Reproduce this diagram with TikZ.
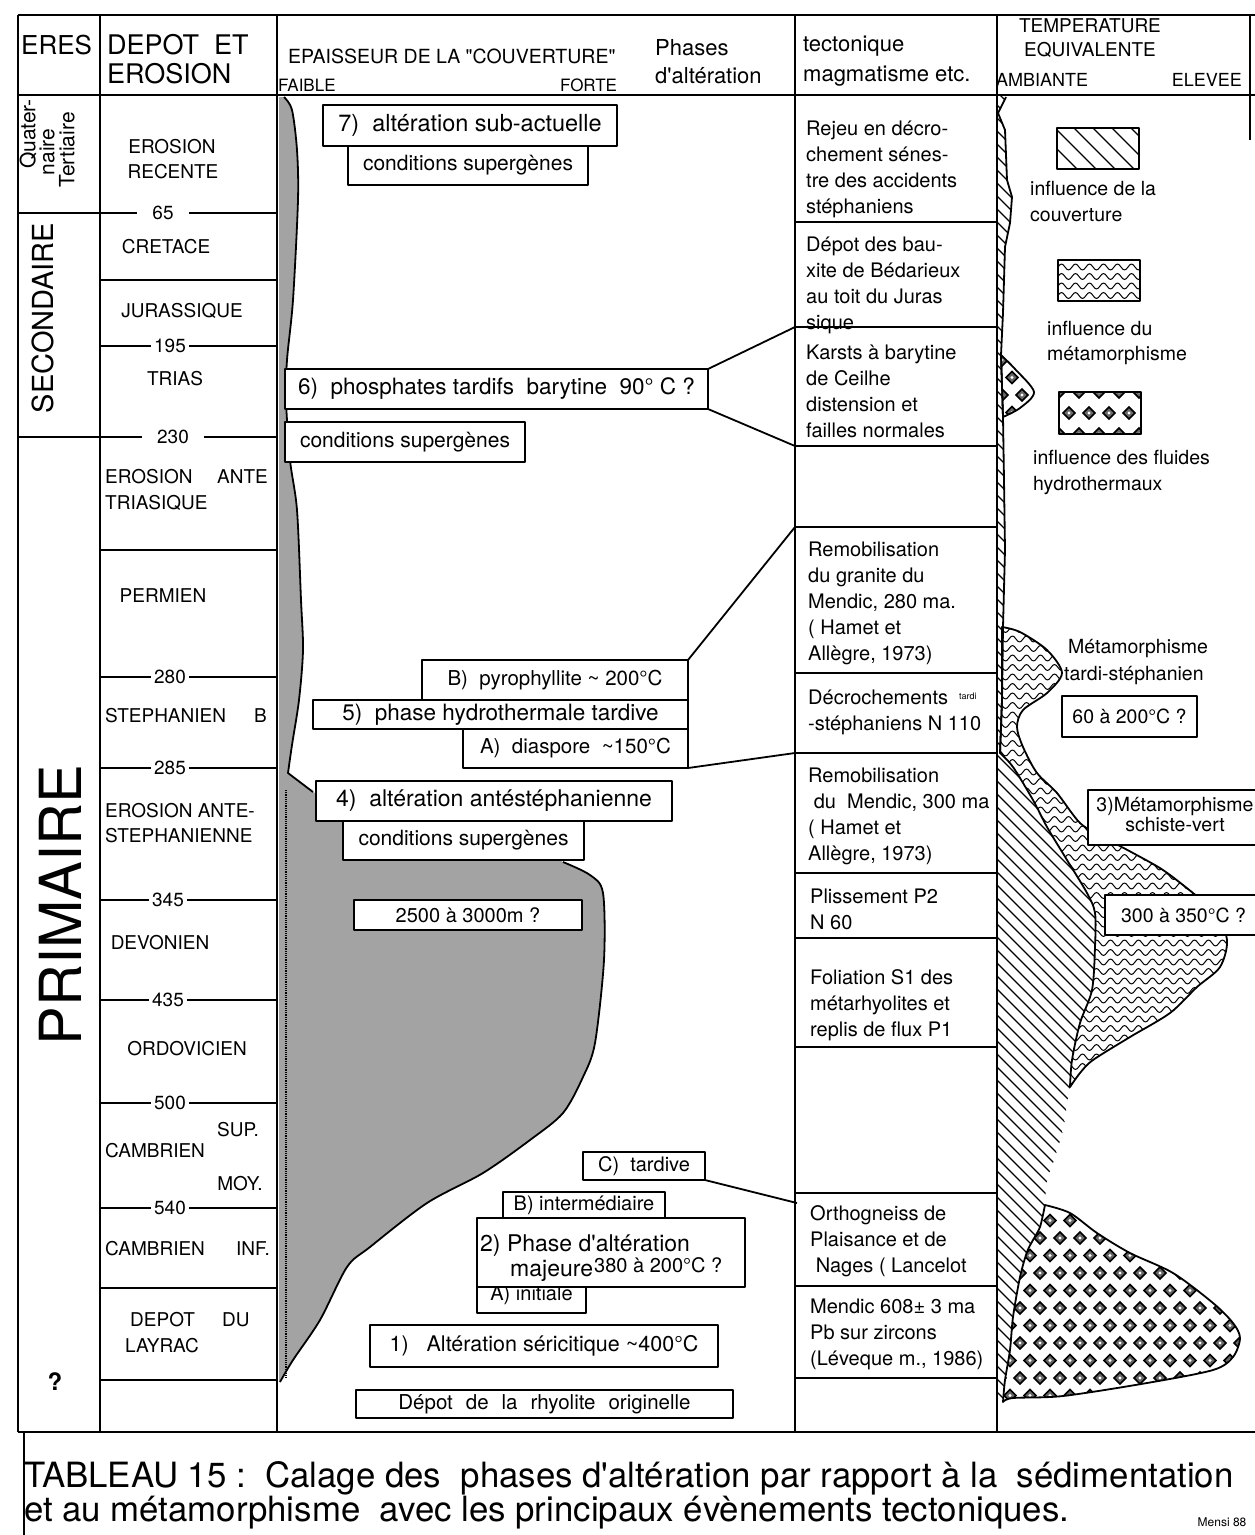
\documentclass[tikz,border=0pt]{standalone}
\usepackage{fontspec}
\setmainfont{TeX Gyre Heros}
\newcommand\myfs[2]{\fontsize{#1}{#2}\selectfont}
\newcommand\mytab[1]{\begin{tabular}[t]{@{}l@{}}#1\end{tabular}}
\newcommand\mytabc[1]{\begin{tabular}[t]{@{}c@{}}#1\end{tabular}}
\newcommand\ap{\textquotesingle}
\newcommand\dq{\textquotedbl}
\newcommand\mydia[2]{%
  \fill (#1,#2) +(-7.2,0) -- +(0,-7.2) -- +(7.2,0) -- +(0,7.2) -- cycle;
  \fill[black!60] (#1,#2) +(-4.6,0) -- +(0,-4.6) -- +(4.6,0) -- +(0,4.6) -- cycle;
  \fill[white] (#1,#2) +(-1.6,0) -- +(0,-1.6) -- +(1.6,0) -- +(0,1.6) -- cycle;}
\begin{document}
\begin{tikzpicture}[x=1pt,y=-1pt,line join=round,
  frm/.style={line width=2.2pt},
  cel/.style={line width=1.8pt},
  box/.style={draw,line width=1.8pt,fill=white,inner sep=0pt,outer sep=0pt,align=center},
  tt/.style={anchor=base west,inner sep=0pt,font=\myfs{20}{26}},
  dp/.style={inner sep=0pt,font=\myfs{19}{24}},
  num/.style={fill=white,inner xsep=3pt,inner ysep=1pt,font=\myfs{19}{24}},
  hw/.style={anchor=west,inner sep=0pt},
  bnd/.style={line width=1.8pt},
  stip/.style={fill=black!36},
  hat/.style={line width=1.2pt},
  wav/.style={line width=1pt},
  leg/.style={line width=2.6pt}]
\useasboundingbox (0,0) rectangle (1255,1535);
\fill[white] (0,0) rectangle (1255,1535);

% ---------- thickness of cover (stippled) ----------
\fill[stip] (279,97) -- plot[smooth] coordinates {(284,97)(292,110)(297,150)(298,200)(293,300)(287,360)(286,400)(290,460)(297,510)(301,600)(303,650)(299,700)(292,745)(288,773)} -- (313,792) -- (330,800) -- (555,858) -- plot[smooth] coordinates {(563,862)(590,875)(603,893)(604,960)(595,1043)(583,1077)(563,1113)(530,1140)(483,1173)(427,1203)(370,1247)(347,1267)(320,1320)(293,1360)(280,1382)} -- (279,1382) -- cycle;
\draw[bnd] plot[smooth] coordinates {(284,97)(292,110)(297,150)(298,200)(293,300)(287,360)(286,400)(290,460)(297,510)(301,600)(303,650)(299,700)(292,745)(288,773)} -- (313,792);
\draw[bnd] plot[smooth] coordinates {(563,862)(590,875)(603,893)(604,960)(595,1043)(583,1077)(563,1113)(530,1140)(483,1173)(427,1203)(370,1247)(347,1267)(320,1320)(293,1360)(280,1382)};
\draw[densely dotted,line width=1.2pt] (286,790) -- (286,1378);

% ---------- temperature column regions ----------
\def\stripA{(997,95) -- (1006,97) -- (998,113) -- (1005,130) -- (1007,180) -- (1012,197) -- (1010,223) -- (1005,247) -- (1003,313) -- (1001,355) -- (1003,417) -- (1004,480) -- (1005,550) -- (1003,627) -- (1002,700) -- (1000,753) -- (997,760) -- cycle}
\def\hydS{plot[smooth] coordinates {(1001,355)(1015,369)(1034,392)(1020,408)(1003,417)} -- cycle}
\def\wavR{plot[smooth] coordinates {(1002,627)(1020,632)(1047,650)(1062,673)(1047,693)(1023,710)(1017,727)(1023,747)(1037,773)(1057,793)(1080,823)(1103,837)(1133,853)(1163,870)(1193,893)(1215,912)(1227,940)(1220,967)(1197,987)(1170,1013)(1130,1037)(1093,1060)(1080,1073)(1070,1087)} -- plot[smooth] coordinates {(1070,1087)(1072,1060)(1080,1023)(1092,990)(1095,947)(1095,913)(1087,893)(1067,860)(1047,827)(1033,800)(1013,767)(1000,753)} -- (1002,700) -- cycle}
\def\hatB{(997,753) -- plot[smooth] coordinates {(1000,753)(1013,767)(1033,800)(1047,827)(1067,860)(1087,893)(1095,913)(1095,947)(1092,990)(1080,1023)(1072,1060)(1070,1087)(1068,1097)(1063,1130)(1053,1163)(1047,1180)(1045,1205)} -- plot[smooth] coordinates {(1045,1205)(1040,1227)(1033,1240)(1027,1252)(1020,1277)(1013,1317)(1010,1350)(1005,1380)(1003,1400)} -- (997,1400) -- cycle}
\def\hydB{plot[smooth] coordinates {(1045,1205)(1070,1213)(1097,1233)(1130,1253)(1173,1273)(1213,1303)(1233,1323)(1240,1338)(1233,1357)(1213,1370)(1147,1383)(1063,1396)(1013,1398)(1003,1402)} -- plot[smooth] coordinates {(1003,1402)(1005,1380)(1010,1350)(1013,1317)(1020,1277)(1027,1252)(1033,1240)(1040,1227)(1045,1205)} -- cycle}

% hatching (influence de la couverture)
\begin{scope}
  \clip \stripA \hatB;
  \foreach \c in {-460,-447,...,1170} \draw[hat] (990,{990-\c}) -- (1270,{1270-\c});
\end{scope}
% waves (metamorphisme)
\begin{scope}
  \clip \wavR;
  \foreach \r in {0,...,50} \draw[wav] (995,{620+9.5*\r}) \foreach \k in {1,...,20} { sin ++(3.5,-3) cos ++(3.5,3) sin ++(3.5,3) cos ++(3.5,-3) };
\end{scope}
% diamonds (fluides hydrothermaux)
\begin{scope}
  \clip \hydB;
  \foreach \j in {0,...,12} \foreach \i in {0,...,13} {
    \pgfmathsetmacro\cx{1000+20*\i+10*mod(\j,2)}
    \pgfmathsetmacro\cy{1203+17.5*\j}
    \mydia{\cx}{\cy}}
\end{scope}
\begin{scope}
  \clip \hydS;
  \foreach \j in {0,...,4} \foreach \i in {0,...,2} {
    \pgfmathsetmacro\cx{1002+20*\i+10*mod(\j,2)}
    \pgfmathsetmacro\cy{360+17.5*\j}
    \mydia{\cx}{\cy}}
\end{scope}
\draw[bnd] (1006,97) -- (998,113) -- (1005,130) -- (1007,180) -- (1012,197) -- (1010,223) -- (1005,247) -- (1003,313) -- (1001,355) -- (1003,417) -- (1004,480) -- (1005,550) -- (1003,627) -- (1002,700) -- (1000,753);
\draw[bnd] \hydS;
\draw[bnd] \wavR;
\draw[bnd] \hydB;

% legend boxes
\begin{scope}
  \clip (1057,128) rectangle (1139,169);
  \foreach \c in {870,889,...,1030} \draw[hat] (1050,{1050-\c}) -- (1150,{1150-\c});
\end{scope}
\draw[leg] (1057,128) rectangle (1139,169);
\begin{scope}
  \clip (1058,260) rectangle (1140,301);
  \foreach \r in {0,...,4} \draw[wav] (1058,{267+9.5*\r}) \foreach \k in {1,...,6} { sin ++(3.5,-3) cos ++(3.5,3) sin ++(3.5,3) cos ++(3.5,-3) };
\end{scope}
\draw[leg] (1058,260) rectangle (1140,301);
\begin{scope}
  \clip (1059,392) rectangle (1141,434);
  \foreach \j in {0,...,2} \foreach \i in {0,...,4} {
    \pgfmathsetmacro\cx{1059+20*\i+10*mod(\j,2)}
    \pgfmathsetmacro\cy{392+21*\j}
    \mydia{\cx}{\cy}}
\end{scope}
\draw[leg] (1059,392) rectangle (1141,434);

% ---------- table frame ----------
\draw[frm] (18,15) -- (1255,15);
\draw[frm] (18,15) -- (18,1432);
\draw[frm] (18,1432) -- (1255,1432);
\draw[frm] (1250,15) -- (1250,140);
\draw[frm] (18,95) -- (1255,95);
\foreach \x in {100,277,795,997} \draw[frm] (\x,15) -- (\x,1432);
\draw[frm] (24,1432) -- (24,1535);
\draw[cel] (18,213) -- (100,213);
\draw[cel] (18,437) -- (100,437);
\foreach \y in {213,280,346,437,550,677,768,900,1000,1103,1208,1288,1380} \draw[cel] (100,\y) -- (277,\y);
\foreach \y in {222,327,446,527,673,753,873,938,1047,1193,1286,1378} \draw[cel] (795,\y) -- (997,\y);

% connector ends on the tectonics column
\coordinate (kTL) at (795,327);
\coordinate (kBL) at (795,446);
\coordinate (rTL) at (795,527);
\coordinate (dBL) at (795,753);
\coordinate (oTL) at (797,1203);

% ---------- boxes ----------
\node[box,minimum width=294pt,minimum height=41pt,font=\myfs{23.5}{28}] (p7) at (470,125.5) {7)\ \ altération sub-actuelle};
\node[box,minimum width=240pt,minimum height=39pt,font=\myfs{21}{26}] (c7) at (468,165.5) {conditions supergènes};
\node[box,minimum width=423pt,minimum height=40pt,font=\myfs{22.5}{27}] (p6) at (496.5,389) {6)\ \ phosphates tardifs\ \ barytine\ \ 90° C ?};
\node[box,minimum width=240pt,minimum height=40pt,font=\myfs{21}{26}] (c6) at (405,442) {conditions supergènes};
\node[box,minimum width=266pt,minimum height=40pt,font=\myfs{20.5}{25}] (pB5) at (555,680) {B)\ \ pyrophyllite \textasciitilde\ 200°C};
\node[box,minimum width=375pt,minimum height=29pt,font=\myfs{22.5}{27}] (p5) at (500.5,714.5) {5)\ \ phase hydrothermale tardive};
\node[box,minimum width=225pt,minimum height=39pt,font=\myfs{20.5}{25}] (pA5) at (575.5,748.5) {A)\ \ diaspore\ \ \textasciitilde150°C};
\node[box,minimum width=356pt,minimum height=40pt,font=\myfs{23}{28}] (p4) at (494,801) {4)\ \ altération antéstéphanienne};
\node[box,minimum width=241pt,minimum height=39pt,font=\myfs{21}{26}] (c4) at (463.5,840.5) {conditions supergènes};
\node[box,minimum width=228pt,minimum height=30pt,font=\myfs{20}{24}] (p2500) at (468,915) {2500 à 3000m ?};
\node[box,minimum width=122pt,minimum height=28pt,font=\myfs{20}{24}] (pC) at (644,1166) {C)\ \ tardive};
\node[box,minimum width=162pt,minimum height=26pt,font=\myfs{20}{24}] (pB2) at (584,1205) {B) intermédiaire};
\node[box,minimum width=109pt,minimum height=26pt] (pA2) at (531.5,1300) {};
\node[inner sep=0pt,font=\myfs{20}{24}] (pA2t) at (531.5,1295) {A) initiale};
\node[box,minimum width=268pt,minimum height=69pt] (p2) at (611,1252.5) {};
\node[anchor=base west,inner sep=0pt,font=\myfs{23}{28}] (p2a) at (480,1251) {2) Phase d\ap altération};
\node[anchor=base west,inner sep=0pt,font=\myfs{23}{28}] (p2b) at (510,1276) {majeure};
\node[anchor=base west,inner sep=0pt,font=\myfs{20}{24}] (p2c) at (594,1272) {380 à 200°C ?};
\node[box,minimum width=348pt,minimum height=42pt,font=\myfs{21.5}{26}] (p1) at (544,1346) {1)\ \ \ Altération séricitique \textasciitilde400°C};
\node[box,minimum width=377pt,minimum height=28pt,font=\myfs{20.5}{24}] (pD) at (544.5,1404) {Dépot\hspace{13pt}de\hspace{13pt}la\hspace{13pt}rhyolite\hspace{13pt}originelle};

% temperature boxes
\node[box,minimum width=135pt,minimum height=41pt,font=\myfs{19.5}{24}] (t60) at (1129.5,716.5) {60 à 200°C ?};
\node[box,minimum width=174pt,minimum height=55pt,font=\myfs{19.5}{20}] (t3) at (1175,817.5) {\mytabc{3)Métamorphisme\\schiste-vert}};
\node[box,minimum width=157pt,minimum height=40pt,font=\myfs{19.5}{24}] (t300) at (1183.5,915) {300 à 350°C ?};

% connectors
\draw[bnd] (p6.north east) -- (kTL);
\draw[bnd] (p6.south east) -- (kBL);
\draw[bnd] (pB5.north east) -- (rTL);
\draw[bnd] (pA5.south east) -- (dBL);
\draw[bnd] (pC.south east) -- (oTL);

% ---------- headers ----------
\node[hw,font=\myfs{26}{30}] (hE) at (21,45) {ERES};
\node[hw,font=\myfs{27}{30}] (hD1) at (107,45) {DEPOT\ \ ET};
\node[hw,font=\myfs{27}{30}] (hD2) at (107,74) {EROSION};
\node[hw,font=\myfs{19.5}{24}] (hEp) at (288,56) {EPAISSEUR DE LA \dq COUVERTURE\dq};
\node[hw,font=\myfs{17}{20}] (hFa) at (278,85) {FAIBLE};
\node[hw,font=\myfs{17}{20}] (hFo) at (560,85) {FORTE};
\node[hw,font=\myfs{22}{26}] (hP1) at (655,48) {Phases};
\node[hw,font=\myfs{22}{26}] (hP2) at (655,76) {d\ap altération};
\node[hw,font=\myfs{22}{26}] (hT1) at (803,46) {tectonique};
\node[hw,font=\myfs{22}{26}] (hT2) at (803,76) {magmatisme etc.};
\node[inner sep=0pt,font=\myfs{19}{22}] (hTe1) at (1090,26) {TEMPERATURE};
\node[inner sep=0pt,font=\myfs{19}{22}] (hTe2) at (1090,50) {EQUIVALENTE};
\node[hw,font=\myfs{18}{22}] (hAm) at (996,80) {AMBIANTE};
\node[anchor=east,inner sep=0pt,font=\myfs{18}{22}] (hEl) at (1242,80) {ELEVEE};

% ---------- eras ----------
\node[rotate=90,inner sep=0pt,font=\myfs{21}{24}] (q1) at (28,134) {Quater-};
\node[rotate=90,inner sep=0pt,font=\myfs{21}{24}] (q2) at (47,152) {naire};
\node[rotate=90,inner sep=0pt,font=\myfs{21}{24}] (q3) at (67,150) {Tertiaire};
\node[rotate=90,inner sep=0pt,font=\myfs{29}{34}] (sec) at (43,318) {SECONDAIRE};
\node[rotate=90,inner sep=0pt,font=\myfs{58}{62}] (prim) at (60,905) {PRIMAIRE};
\node[inner sep=0pt,font=\bfseries\myfs{24}{28}] (qm) at (55,1382) {?};

% ---------- depot / erosion ----------
\node[dp] (d1) at (172,147) {EROSION};
\node[dp] (d2) at (173,172) {RECENTE};
\node[num,inner xsep=15pt] (n65) at (163,213) {65};
\node[dp] (d3) at (166,247) {CRETACE};
\node[dp] (d4) at (182,311) {JURASSIQUE};
\node[num] (n195) at (170,346) {195};
\node[dp] (d5) at (175,379) {TRIAS};
\node[num,inner xsep=15pt] (n230) at (173,437) {230};
\node[dp,anchor=west] (d6a) at (105,477) {EROSION};
\node[dp,anchor=east] (d6b) at (268,477) {ANTE};
\node[dp,anchor=west] (d6c) at (105,503) {TRIASIQUE};
\node[dp] (d7) at (163,596) {PERMIEN};
\node[num] (n280) at (170,677) {280};
\node[dp,anchor=west] (d8a) at (105,716) {STEPHANIEN};
\node[dp,anchor=east] (d8b) at (267,716) {B};
\node[num] (n285) at (170,768) {285};
\node[dp,anchor=west] (d9a) at (105,811) {EROSION ANTE-};
\node[dp,anchor=west] (d9b) at (105,836) {STEPHANIENNE};
\node[num] (n345) at (168,900) {345};
\node[dp] (d10) at (160,943) {DEVONIEN};
\node[num] (n435) at (168,1000) {435};
\node[dp] (d11) at (187,1049) {ORDOVICIEN};
\node[num] (n500) at (170,1103) {500};
\node[dp] (d12a) at (238,1130) {SUP.};
\node[dp,anchor=west] (d12b) at (105,1151) {CAMBRIEN};
\node[dp] (d12c) at (240,1184) {MOY.};
\node[num] (n540) at (170,1208) {540};
\node[dp,anchor=west] (d13a) at (105,1249) {CAMBRIEN};
\node[dp,anchor=east] (d13b) at (270,1249) {INF.};
\node[dp,anchor=west] (d14a) at (130,1320) {DEPOT};
\node[dp,anchor=west] (d14b) at (222,1320) {DU};
\node[dp,anchor=west] (d14c) at (125,1346) {LAYRAC};

% ---------- tectonique ----------
\node[tt] (e1) at (806,135) {\mytab{Rejeu en décro-\\chement sénes-\\tre des accidents\\stéphaniens}};
\node[tt] (e2) at (806,251) {\mytab{Dépot des bau-\\xite de Bédarieux\\au toit du Juras\\sique}};
\node[tt] (e3) at (806,359) {\mytab{Karsts à barytine\\de Ceilhe\\distension et\\failles normales}};
\node[tt] (e5) at (808,556) {\mytab{Remobilisation\\du granite du\\Mendic, 280 ma.\\( Hamet et\\Allègre, 1973)}};
\node[tt] (e6) at (808,704) {\mytab{Décrochements\\-stéphaniens N 110}};
\node[anchor=base west,inner sep=0pt,font=\myfs{9}{10}] (e6t) at (959,699) {tardi};
\node[tt] (e7) at (808,782) {\mytab{Remobilisation\\\ du\ \ Mendic, 300 ma\\( Hamet et\\Allègre, 1973)}};
\node[tt] (e8) at (810,903) {\mytab{Plissement P2\\N 60}};
\node[tt] (e9) at (810,984) {\mytab{Foliation S1 des\\métarhyolites et\\replis de flux P1}};
\node[tt] (e11) at (810,1220) {\mytab{Orthogneiss de\\Plaisance et de\\\ Nages ( Lancelot}};
\node[tt] (e12) at (810,1313) {\mytab{Mendic 608± 3 ma\\Pb sur zircons\\(Léveque m., 1986)}};

% ---------- temperature texts ----------
\node[tt,font=\myfs{19.5}{26}] (l1) at (1030,195) {\mytab{influence de la\\couverture}};
\node[tt,font=\myfs{19.5}{25}] (l2) at (1047,335) {\mytab{influence du\\métamorphisme}};
\node[tt,font=\myfs{19.5}{26}] (l3) at (1033,464) {\mytab{influence des fluides\\hydrothermaux}};
\node[tt,font=\myfs{19.5}{27}] (m1) at (1068,653) {\mytab{Métamorphisme\\\kern-4pt tardi-stéphanien}};

% ---------- caption ----------
\node[anchor=base west,inner sep=0pt,font=\myfs{34.8}{40}] (cap1) at (24,1487) {TABLEAU 15 :\ \ Calage des\ \ phases d\ap altération par rapport à la\ \ sédimentation};
\node[anchor=base west,inner sep=0pt,font=\myfs{34.8}{40}] (cap2) at (24,1521) {et au métamorphisme\ \ avec les principaux évènements tectoniques.};
\node[inner sep=0pt,font=\myfs{12}{14}] (sig) at (1222,1522) {Mensi 88};
\end{tikzpicture}
\end{document}
